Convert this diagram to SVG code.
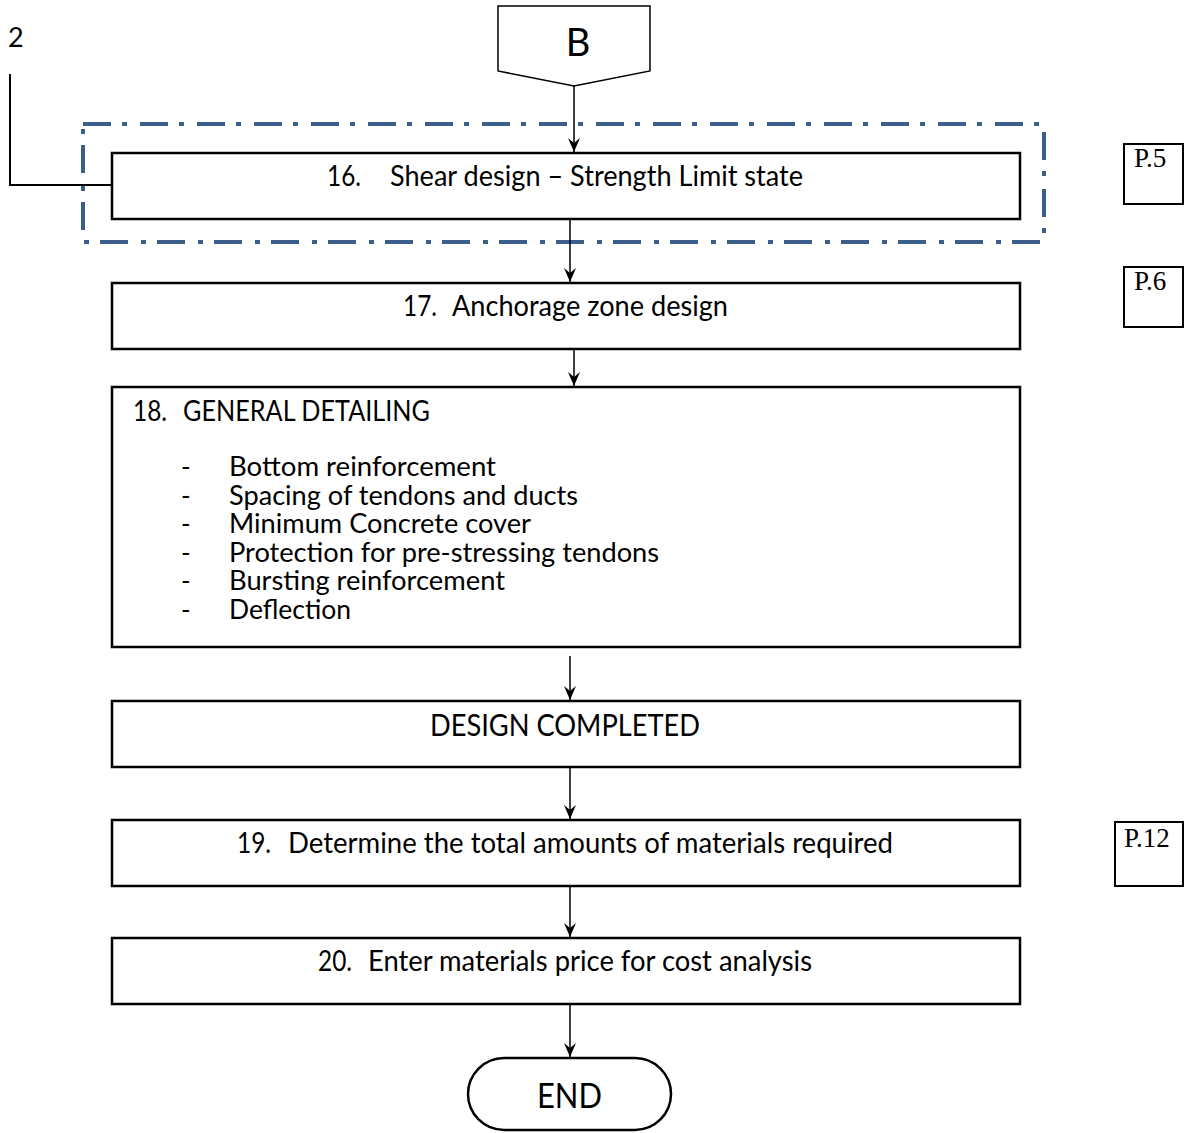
<svg xmlns="http://www.w3.org/2000/svg" width="1187" height="1133" viewBox="0 0 1187 1133">
<defs>
<style>
.box{fill:#fff;stroke:#000;stroke-width:2.5}
.t{font-family:Lato,"Liberation Sans",sans-serif;font-size:29px;fill:#000}
.l{font-family:Lato,"Liberation Sans",sans-serif;font-size:26px;fill:#000}
.p{font-family:"Liberation Serif",serif;font-size:27px;fill:#000}
.pb{fill:#fff;stroke:#000;stroke-width:2}
.c{fill:none;stroke:#000;stroke-width:1.5}
</style>
<marker id="ah" viewBox="0 0 14 12" refX="14" refY="6" markerWidth="14" markerHeight="12" markerUnits="userSpaceOnUse" orient="auto">
<path d="M0,0 L14,6 L0,12 L5,6 Z" fill="#000"/>
</marker>
</defs>
<rect width="1187" height="1133" fill="#fff"/>

<g id="ref-2">
<text class="t" x="8" y="47" style="font-size:27px">2</text>
<path d="M10,74 V185 H112" fill="none" stroke="#000" stroke-width="2"/>
</g>

<g id="group-16">
<rect x="83" y="124" width="961" height="118" fill="none" stroke="#3b5e8c" stroke-width="4" stroke-dasharray="28 11 5 13"/>
</g>

<g id="connectors">
<path class="c" d="M574,86 V152" marker-end="url(#ah)"/>
<path class="c" d="M570,219 V282" marker-end="url(#ah)"/>
<path class="c" d="M574,349 V386" marker-end="url(#ah)"/>
<path class="c" d="M570,656 V700" marker-end="url(#ah)"/>
<path class="c" d="M570,767 V819" marker-end="url(#ah)"/>
<path class="c" d="M570,886 V937" marker-end="url(#ah)"/>
<path class="c" d="M570,1004 V1057" marker-end="url(#ah)"/>
</g>

<g id="node-B">
<path d="M498,6 H650 V71 L574,86 L498,71 Z" fill="#fff" stroke="#000" stroke-width="1.5"/>
<text class="t" x="578" y="56" style="font-size:38px" text-anchor="middle">B</text>
</g>

<g id="node-16">
<rect class="box" x="112" y="153" width="908" height="66"/>
<text class="t" x="327" y="186" textLength="34" lengthAdjust="spacingAndGlyphs">16.</text>
<text class="t" x="390" y="186" textLength="413" lengthAdjust="spacingAndGlyphs">Shear design – Strength Limit state</text>
</g>

<g id="node-17">
<rect class="box" x="112" y="283" width="908" height="66"/>
<text class="t" x="403" y="316" textLength="34" lengthAdjust="spacingAndGlyphs">17.</text>
<text class="t" x="452" y="316" textLength="276" lengthAdjust="spacingAndGlyphs">Anchorage zone design</text>
</g>

<g id="node-18">
<rect class="box" x="112" y="387" width="908" height="260"/>
<text class="t" x="133" y="421" textLength="34" lengthAdjust="spacingAndGlyphs">18.</text>
<text class="t" x="183" y="421" textLength="247" lengthAdjust="spacingAndGlyphs">GENERAL DETAILING</text>
<text class="l" x="181" y="476">-</text>
<text class="l" x="229" y="476" textLength="267" lengthAdjust="spacingAndGlyphs">Bottom reinforcement</text>
<text class="l" x="181" y="505">-</text>
<text class="l" x="229" y="505" textLength="349" lengthAdjust="spacingAndGlyphs">Spacing of tendons and ducts</text>
<text class="l" x="181" y="533">-</text>
<text class="l" x="229" y="533" textLength="302" lengthAdjust="spacingAndGlyphs">Minimum Concrete cover</text>
<text class="l" x="181" y="562">-</text>
<text class="l" x="229" y="562" textLength="430" lengthAdjust="spacingAndGlyphs">Protection for pre-stressing tendons</text>
<text class="l" x="181" y="590">-</text>
<text class="l" x="229" y="590" textLength="276" lengthAdjust="spacingAndGlyphs">Bursting reinforcement</text>
<text class="l" x="181" y="619">-</text>
<text class="l" x="229" y="619" textLength="122" lengthAdjust="spacingAndGlyphs">Deflection</text>
</g>

<g id="node-completed">
<rect class="box" x="112" y="701" width="908" height="66"/>
<text class="t" x="430" y="736" style="font-size:31px" textLength="270" lengthAdjust="spacingAndGlyphs">DESIGN COMPLETED</text>
</g>

<g id="node-19">
<rect class="box" x="112" y="820" width="908" height="66"/>
<text class="t" x="237" y="853" textLength="34" lengthAdjust="spacingAndGlyphs">19.</text>
<text class="t" x="288" y="853" textLength="605" lengthAdjust="spacingAndGlyphs">Determine the total amounts of materials required</text>
</g>

<g id="node-20">
<rect class="box" x="112" y="938" width="908" height="66"/>
<text class="t" x="318" y="971" textLength="34" lengthAdjust="spacingAndGlyphs">20.</text>
<text class="t" x="368" y="971" textLength="444" lengthAdjust="spacingAndGlyphs">Enter materials price for cost analysis</text>
</g>

<g id="node-end">
<rect x="468" y="1058" width="203" height="72" rx="36" ry="36" fill="#fff" stroke="#000" stroke-width="2.5"/>
<text class="t" x="537" y="1108" style="font-size:35px" textLength="65" lengthAdjust="spacingAndGlyphs">END</text>
</g>

<g id="page-5">
<rect class="pb" x="1124" y="144" width="59" height="60"/>
<text class="p" x="1134" y="167">P.5</text>
</g>
<g id="page-6">
<rect class="pb" x="1124" y="267" width="59" height="60"/>
<text class="p" x="1134" y="290">P.6</text>
</g>
<g id="page-12">
<rect class="pb" x="1115" y="822" width="68" height="64"/>
<text class="p" x="1124" y="847">P.12</text>
</g>
</svg>
